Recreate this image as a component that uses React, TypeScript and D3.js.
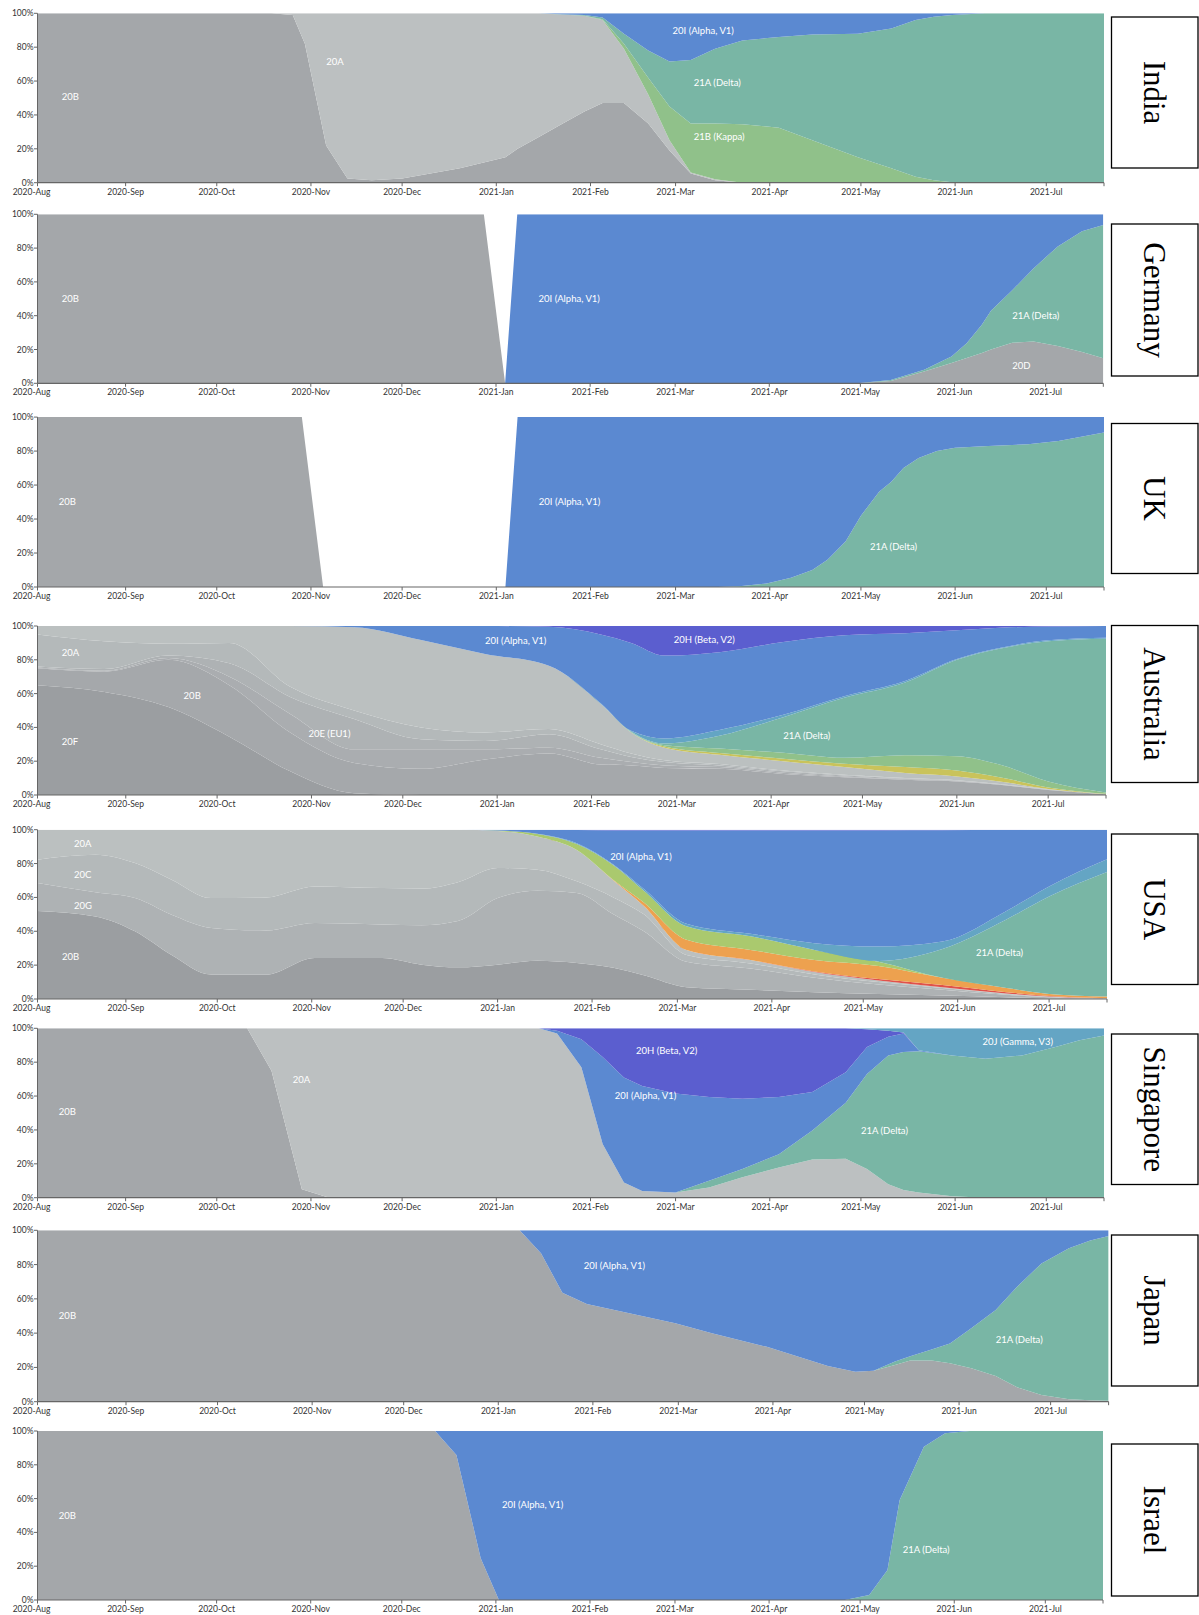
import React from "react";
import * as d3 from "d3";

// ---------------- INDIA ----------------
const indiaDates = ["2020-08-03","2020-10-19","2020-10-26","2020-10-30","2020-11-06","2020-11-13","2020-11-21","2020-12-01","2020-12-20","2021-01-04","2021-01-08","2021-01-15","2021-01-22","2021-01-30","2021-02-05","2021-02-12","2021-02-20","2021-02-27","2021-03-06","2021-03-14","2021-03-23","2021-04-04","2021-04-15","2021-04-30","2021-05-11","2021-05-19","2021-05-25","2021-05-31","2021-06-11","2021-07-20"];
const india20B = [100,100,99,82,22,2.5,1.5,2.5,8.5,15,20,27,34,42,47,47,35,19,5.5,1.5,0,0,0,0,0,0,0,0,0,0];
const india20A = [0,0,1,18,78,97.5,98.5,97.5,91.5,85,80,73,65.3,56.5,49,32,17,6,0.5,0.5,0,0,0,0,0,0,0,0,0,0];
const india21B = [0,0,0,0,0,0,0,0,0,0,0,0,0,0.1,0.5,3,10,20,29,33,34.5,32.5,25,15,8.5,3.5,1.5,0.3,0,0];
const india21A = [0,0,0,0,0,0,0,0,0,0,0,0,0.2,0.4,1,6,16,26.5,37.4,44,49.5,53.5,62.5,73,82.5,92.5,96.5,98.7,100,100];
const india20I = [0,0,0,0,0,0,0,0,0,0,0,0,0.5,1,2.5,12,22,28.5,27.6,21,16,14,12.5,12,9,4,2,1,0,0];

// ---------------- GERMANY ----------------
const germanyDates = ["2020-08-03","2020-12-28","2021-01-04","2021-01-08","2021-04-30","2021-05-11","2021-05-22","2021-05-31","2021-06-05","2021-06-10","2021-06-13","2021-06-20","2021-06-27","2021-07-05","2021-07-13","2021-07-20"];
const germany20B = [100,100,0,0,0,0,0,0,0,0,0,0,0,0,0,0];
const germany20D = [0,0,0,0,0,1.4,7,12,15,18,20,24,24.7,22,18.5,14.8];
const germany21A = [0,0,0,0,0,0.6,1,3.8,8.7,16.7,23,31,43.3,59,71.5,78.9];
const germany20I = [0,0,0,100,100,98,92,84.2,76.3,65.3,57,45,32,19,10,6.3];

// ---------------- UK ----------------
const ukDates = ["2020-08-03","2020-10-29","2020-11-05","2021-01-04","2021-01-08","2021-03-15","2021-03-22","2021-03-31","2021-04-08","2021-04-15","2021-04-20","2021-04-26","2021-05-01","2021-05-07","2021-05-11","2021-05-15","2021-05-20","2021-05-26","2021-06-01","2021-06-12","2021-06-25","2021-07-05","2021-07-20"];
const uk20B = [100,100,0,0,0,0,0,0,0,0,0,0,0,0,0,0,0,0,0,0,0,0,0];
const uk21A = [0,0,0,0,0,0,0.5,2,5.5,10,16,27,42,56,62,70,76,80,82,83,84,86,91];
const uk20I = [0,0,0,0,100,100,99.5,98,94.5,90,84,73,58,44,38,30,24,20,18,17,16,14,9];

// ---------------- AUSTRALIA ----------------
const ausDates = ["2020-08-03","2020-08-25","2020-09-15","2020-10-05","2020-10-25","2020-11-15","2020-12-07","2020-12-28","2021-01-18","2021-02-04","2021-02-14","2021-02-25","2021-03-15","2021-04-05","2021-04-25","2021-05-15","2021-06-01","2021-06-15","2021-07-01","2021-07-20"];
const aus20F = [65,61,52,34.5,14,1,0,0,0,0,0,0,0,0,0,0,0,0,0,0];
const aus20B = [10,12,28,30.5,23,18,15.5,21,24.5,18,17.5,16,15.5,12.5,10.5,9,8,6,3,0.4];
const aus20D = [0.5,0.5,1,5,11,8,11.5,6,3.5,4,2,1.5,1,0.7,0.5,0.4,0.3,0.2,0.1,0.02];
const aus20E = [0.5,1,1.5,8,10,18,6,5,8,5,3,2,1,0.8,0.5,0.4,0.3,0.2,0.1,0.02];
const aus20A = [19,16.5,7,12,6,5,7,5,3,3,2,1,0.8,0.5,0.5,0.2,0.2,0.1,0.1,0.02];
const aus20C = [5,9,10.5,10,36,49.3,51.7,46.5,37.5,24,12.5,7.5,5.5,5.5,4.5,3,2.2,1.5,0.2,0.04];
const aus21D = [0,0,0,0,0,0,0,0,0,0,0,0.7,1,1.5,2,3.5,3.5,2.5,1,0.2];
const aus21B = [0,0,0,0,0,0,0,0,0,0,0.3,0.8,2.7,3.5,3.5,7,8.5,7.5,3.5,0.8];
const aus21A = [0,0,0,0,0,0,0,0,0,0,0.3,1,7.5,21,35.5,43,57,68.5,83,91];
const aus20J = [0,0,0,0,0,0,0,0,0,0.3,0.4,3,3.5,1.5,1,1,0.5,0.5,0.5,0.5];
const aus20I = [0,0,0,0,0,0.7,8.3,16.5,23,40.7,52,49,46,43,36,28.2,17,12,8.2,7];
const aus20H = [0,0,0,0,0,0,0,0,0.5,5,10,17.5,15.5,9.5,5.5,4.3,2.5,1,0.3,0];

// ---------------- USA ----------------
const usaDates = ["2020-08-03","2020-08-22","2020-09-04","2020-09-16","2020-09-29","2020-10-17","2020-11-02","2020-11-24","2020-12-07","2020-12-19","2021-01-01","2021-01-14","2021-01-27","2021-02-08","2021-02-18","2021-03-04","2021-03-25","2021-04-15","2021-05-06","2021-05-27","2021-06-17","2021-07-01","2021-07-20"];
const usa20B = [52,48.8,40,26,14.4,14.4,24.2,24.2,20.3,18.7,20.3,22.6,21.3,18.5,14,7,5.5,4,3,2,1,0.3,0.1];
const usa20G = [16.5,14.2,19.6,23.8,27.6,26.1,20.7,19.8,23.2,27.3,39.3,41.4,41.3,31.5,26,15,12.5,8.5,5.5,3.5,1.5,0.7,0.1];
const usa20C = [13.8,22.2,20.7,20.7,17.6,19.5,21.6,21.5,21.7,23,17.8,12.4,6.9,10,10,4,3,2,1.5,1,0.5,0.3,0.1];
const usa20A = [17.7,14.8,19.7,29.5,40.4,40,33.5,34.5,34.8,31,21.9,19.6,18.5,10,5,3,2,1.5,1,0.5,0.3,0.2,0.1];
const usa21G = [0,0,0,0,0,0,0,0,0,0,0,0,0,0,0,0,0.1,0.3,0.8,1.2,0.7,0.3,0.1];
const usa21C = [0,0,0,0,0,0,0,0,0,0,0,0,0,0.3,2,6,5.9,6.7,7.7,4.3,2.5,1.2,1];
const usa21F = [0,0,0,0,0,0,0,0,0,0,0.2,1.5,3.5,8.7,7,8,8,6,2.5,0,0,0,0];
const usa21A = [0,0,0,0,0,0,0,0,0,0,0,0,0,0,0,0,0,0,0.5,17,40.5,57.5,73.5];
const usa20J = [0,0,0,0,0,0,0,0,0,0,0,0.1,0.5,0.5,1,1.5,1.5,4,8.5,4.5,5,6,7.5];
const usa20I = [0,0,0,0,0,0,0,0,0,0,0.5,2.4,7.8,20.1,34.6,55,61,66.5,68.6,65.7,47.8,33.5,17.5];
const usa20H = [0,0,0,0,0,0,0,0,0,0,0,0,0.2,0.4,0.4,0.5,0.5,0.5,0.4,0.3,0.2,0,0];

// ---------------- SINGAPORE ----------------
const sgDates = ["2020-08-03","2020-10-11","2020-10-19","2020-10-29","2020-11-07","2021-01-15","2021-01-21","2021-01-29","2021-02-05","2021-02-12","2021-02-18","2021-03-01","2021-03-12","2021-03-23","2021-04-04","2021-04-15","2021-04-26","2021-05-03","2021-05-10","2021-05-15","2021-05-20","2021-05-31","2021-06-11","2021-06-23","2021-07-04","2021-07-12","2021-07-20"];
const sg20B = [100,100,75,5,0,0,0,0,0,0,0,0,0,0,0,0,0,0,0,0,0,0,0,0,0,0,0];
const sg20A = [0,0,25,95,100,100,97,77,31.7,9,4,3,6,12,17.8,22.5,23,17,8,4.5,3,0.8,0,0,0,0,0];
const sg21A = [0,0,0,0,0,0,0,0,0,0,0,0,4,5,7.9,17.1,33,56,76,81.5,83.5,83.2,82,84,89,93,95.7];
const sg20I = [0,0,0,0,0,0,1.5,16.5,51.3,62,62,58.5,49.5,41.4,33.7,22.8,18,16,11,11,0.5,0,0,0,0,0,0];
const sg20H = [0,0,0,0,0,0,1.5,6.5,17,29,34,38.5,40.5,41.6,40.6,37.6,26,10.5,3.5,0.5,0,0,0,0,0,0,0];
const sg20J = [0,0,0,0,0,0,0,0,0,0,0,0,0,0,0,0,0,0.5,1.5,2.5,13,16,18,16,11,7,4.3];

// ---------------- JAPAN ----------------
const jpDates = ["2020-08-03","2021-01-08","2021-01-15","2021-01-22","2021-01-30","2021-02-28","2021-03-12","2021-03-30","2021-04-19","2021-04-28","2021-05-04","2021-05-11","2021-05-16","2021-05-23","2021-05-29","2021-06-05","2021-06-13","2021-06-20","2021-06-28","2021-07-07","2021-07-14","2021-07-20"];
const jp20B = [100,100,86.6,63.6,57,45.7,39.9,32,20.8,17.5,18,21.4,24,24,22.4,19.5,15,8.5,3.9,1.5,0.9,0.6];
const jp21A = [0,0,0,0,0,0,0,0,0,0,0,2.1,2.5,6.5,11.6,23.3,38.5,58.5,76.8,88,93.1,96.1];
const jp20I = [0,0,13.4,36.4,43,54.3,60.1,68,79.2,82.5,82,76.5,73.5,69.5,66,57.2,46.5,33,19.3,10.5,6,3.3];

// ---------------- ISRAEL ----------------
const ilDates = ["2020-08-03","2020-12-12","2020-12-19","2020-12-27","2021-01-02","2021-04-26","2021-05-04","2021-05-10","2021-05-14","2021-05-22","2021-05-29","2021-06-06","2021-07-20"];
const il20B = [100,100,85.8,24.7,0,0,0,0,0,0,0,0,0];
const il21A = [0,0,0,0,0,0,3,17.8,59,90.7,98.6,100,100];
const il20I = [0,0,14.2,75.3,100,100,97,82.2,41,9.3,1.4,0,0];

// ---------------- axis ticks ----------------
const X_START = "2020-08-03";
const X_END = "2021-07-20";
const MONTH_TICKS = ["2020-09-01","2020-10-01","2020-11-01","2020-12-01","2021-01-01","2021-02-01","2021-03-01","2021-04-01","2021-05-01","2021-06-01","2021-07-01"];
const Y_TICKS = [0, 20, 40, 60, 80, 100];

// ---------------- colours ----------------
const COL = {
  gray: "#a4a7aa",
  light: "#bcc0c1",
  alpha: "#5b89d1",
  delta: "#79b6a5",
  kappa: "#90c18a",
  beta: "#5b5ecf",
  gamma: "#64a5c4",
  orange: "#eda14f",
  iota: "#aac96e",
  red: "#e0524a",
  eta: "#c9c35b",
  g1: "#9b9ea1",
  g2: "#a5a8ab",
  g3: "#aaadb0",
  g4: "#aeb2b4",
  g5: "#b4b9ba",
  g6: "#bbc0c0",
};

const parse = d3.timeParse("%Y-%m-%d");
const LEFT = 37.5;
const FONT = "Lato, 'Open Sans', 'DejaVu Sans', sans-serif";

type Series = { name: string; values: number[]; color: string };
type Label = { text: string; date: string; pct: number };
type Cfg = {
  country: string;
  dates: string[];
  series: Series[];
  labels: Label[];
  top: number;
  bottom: number;
  right: number;
  box: [number, number];
  smooth: boolean;
};

const panels: Cfg[] = [
  {
    country: "India", dates: indiaDates, top: 13.3, bottom: 182.7, right: 1104, box: [17, 168], smooth: false,
    series: [
      { name: "20B", values: india20B, color: COL.gray },
      { name: "20A", values: india20A, color: COL.light },
      { name: "21B (Kappa)", values: india21B, color: COL.kappa },
      { name: "21A (Delta)", values: india21A, color: COL.delta },
      { name: "20I (Alpha, V1)", values: india20I, color: COL.alpha },
    ],
    labels: [
      { text: "20B", date: "2020-08-11", pct: 50.6 },
      { text: "20A", date: "2020-11-06", pct: 71.3 },
      { text: "20I (Alpha, V1)", date: "2021-02-28", pct: 89.6 },
      { text: "21A (Delta)", date: "2021-03-07", pct: 58.9 },
      { text: "21B (Kappa)", date: "2021-03-07", pct: 27 },
    ],
  },
  {
    country: "Germany", dates: germanyDates, top: 214.3, bottom: 383.3, right: 1103.3, box: [224, 376], smooth: false,
    series: [
      { name: "20B", values: germany20B, color: COL.gray },
      { name: "20D", values: germany20D, color: COL.gray },
      { name: "21A (Delta)", values: germany21A, color: COL.delta },
      { name: "20I (Alpha, V1)", values: germany20I, color: COL.alpha },
    ],
    labels: [
      { text: "20B", date: "2020-08-11", pct: 50 },
      { text: "20I (Alpha, V1)", date: "2021-01-15", pct: 50 },
      { text: "21A (Delta)", date: "2021-06-20", pct: 40.4 },
      { text: "20D", date: "2021-06-20", pct: 10.8 },
    ],
  },
  {
    country: "UK", dates: ukDates, top: 417.1, bottom: 587, right: 1104, box: [423.5, 573.5], smooth: false,
    series: [
      { name: "20B", values: uk20B, color: COL.gray },
      { name: "21A (Delta)", values: uk21A, color: COL.delta },
      { name: "20I (Alpha, V1)", values: uk20I, color: COL.alpha },
    ],
    labels: [
      { text: "20B", date: "2020-08-10", pct: 50.3 },
      { text: "20I (Alpha, V1)", date: "2021-01-15", pct: 50.3 },
      { text: "21A (Delta)", date: "2021-05-04", pct: 24.1 },
    ],
  },
  {
    country: "Australia", dates: ausDates, top: 626, bottom: 795, right: 1106, box: [625.5, 782.5], smooth: true,
    series: [
      { name: "20F", values: aus20F, color: COL.g1 },
      { name: "20B", values: aus20B, color: COL.g2 },
      { name: "20D", values: aus20D, color: COL.g3 },
      { name: "20E (EU1)", values: aus20E, color: COL.g4 },
      { name: "20A", values: aus20A, color: COL.g5 },
      { name: "20C", values: aus20C, color: COL.g6 },
      { name: "21D (Eta)", values: aus21D, color: COL.eta },
      { name: "21B (Kappa)", values: aus21B, color: COL.kappa },
      { name: "21A (Delta)", values: aus21A, color: COL.delta },
      { name: "20J (Gamma, V3)", values: aus20J, color: COL.gamma },
      { name: "20I (Alpha, V1)", values: aus20I, color: COL.alpha },
      { name: "20H (Beta, V2)", values: aus20H, color: COL.beta },
    ],
    labels: [
      { text: "20A", date: "2020-08-11", pct: 84.2 },
      { text: "20B", date: "2020-09-20", pct: 58.6 },
      { text: "20F", date: "2020-08-11", pct: 31.5 },
      { text: "20E (EU1)", date: "2020-10-31", pct: 36.5 },
      { text: "20I (Alpha, V1)", date: "2020-12-28", pct: 91.7 },
      { text: "20H (Beta, V2)", date: "2021-02-28", pct: 92.1 },
      { text: "21A (Delta)", date: "2021-04-05", pct: 35.5 },
    ],
  },
  {
    country: "USA", dates: usaDates, top: 829.7, bottom: 999, right: 1107, box: [834, 984.5], smooth: true,
    series: [
      { name: "20B", values: usa20B, color: COL.g1 },
      { name: "20G", values: usa20G, color: COL.g4 },
      { name: "20C", values: usa20C, color: COL.g5 },
      { name: "20A", values: usa20A, color: COL.g6 },
      { name: "21G", values: usa21G, color: COL.red },
      { name: "21C (Epsilon)", values: usa21C, color: COL.orange },
      { name: "21F (Iota)", values: usa21F, color: COL.iota },
      { name: "21A (Delta)", values: usa21A, color: COL.delta },
      { name: "20J (Gamma, V3)", values: usa20J, color: COL.gamma },
      { name: "20I (Alpha, V1)", values: usa20I, color: COL.alpha },
      { name: "20H (Beta, V2)", values: usa20H, color: COL.beta },
    ],
    labels: [
      { text: "20A", date: "2020-08-15", pct: 92.1 },
      { text: "20C", date: "2020-08-15", pct: 73.4 },
      { text: "20G", date: "2020-08-15", pct: 55.3 },
      { text: "20B", date: "2020-08-11", pct: 25.2 },
      { text: "20I (Alpha, V1)", date: "2021-02-07", pct: 84.3 },
      { text: "21A (Delta)", date: "2021-06-07", pct: 27.6 },
    ],
  },
  {
    country: "Singapore", dates: sgDates, top: 1028.3, bottom: 1197.7, right: 1104, box: [1034, 1184.5], smooth: false,
    series: [
      { name: "20B", values: sg20B, color: COL.gray },
      { name: "20A", values: sg20A, color: COL.light },
      { name: "21A (Delta)", values: sg21A, color: COL.delta },
      { name: "20I (Alpha, V1)", values: sg20I, color: COL.alpha },
      { name: "20H (Beta, V2)", values: sg20H, color: COL.beta },
      { name: "20J (Gamma, V3)", values: sg20J, color: COL.gamma },
    ],
    labels: [
      { text: "20B", date: "2020-08-10", pct: 50.6 },
      { text: "20A", date: "2020-10-26", pct: 69.5 },
      { text: "20H (Beta, V2)", date: "2021-02-16", pct: 86.8 },
      { text: "20I (Alpha, V1)", date: "2021-02-09", pct: 60.6 },
      { text: "21A (Delta)", date: "2021-05-01", pct: 39.9 },
      { text: "20J (Gamma, V3)", date: "2021-06-10", pct: 92.1 },
    ],
  },
  {
    country: "Japan", dates: jpDates, top: 1230.3, bottom: 1401.7, right: 1108.6, box: [1235, 1386], smooth: false,
    series: [
      { name: "20B", values: jp20B, color: COL.gray },
      { name: "21A (Delta)", values: jp21A, color: COL.delta },
      { name: "20I (Alpha, V1)", values: jp20I, color: COL.alpha },
    ],
    labels: [
      { text: "20B", date: "2020-08-10", pct: 50.2 },
      { text: "20I (Alpha, V1)", date: "2021-01-29", pct: 79.3 },
      { text: "21A (Delta)", date: "2021-06-13", pct: 36 },
    ],
  },
  {
    country: "Israel", dates: ilDates, top: 1431, bottom: 1600, right: 1103, box: [1444, 1596], smooth: false,
    series: [
      { name: "20B", values: il20B, color: COL.gray },
      { name: "21A (Delta)", values: il21A, color: COL.delta },
      { name: "20I (Alpha, V1)", values: il20I, color: COL.alpha },
    ],
    labels: [
      { text: "20B", date: "2020-08-10", pct: 49.9 },
      { text: "20I (Alpha, V1)", date: "2021-01-03", pct: 56.6 },
      { text: "21A (Delta)", date: "2021-05-15", pct: 29.6 },
    ],
  },
];

const fmt = d3.timeFormat("%Y-%b");

function Panel({ cfg, idx }: { cfg: Cfg; idx: number }) {
  const x = d3.scaleTime().domain([parse(X_START)!, parse(X_END)!]).range([LEFT, cfg.right]);
  const y = d3.scaleLinear().domain([0, 100]).range([cfg.bottom, cfg.top]);
  const keys = cfg.series.map((s) => s.name);
  const rows = cfg.dates.map((d, i) => {
    const r: any = { date: parse(d) };
    cfg.series.forEach((s) => { r[s.name] = s.values[i]; });
    return r;
  });
  const stacked = d3.stack<any>().keys(keys)(rows);
  const area = d3
    .area<any>()
    .x((d: any) => x(d.data.date))
    .y0((d: any) => y(d[0]))
    .y1((d: any) => y(d[1]))
    .curve(cfg.smooth ? d3.curveMonotoneX : d3.curveLinear);
  const clipId = `clip-${idx}`;
  const monthTicks = MONTH_TICKS.map((t) => parse(t)!);
  const start = parse(X_START)!;
  const bx = 1111.5, bw = 86.5;
  const [b0, b1] = cfg.box;
  const cx = bx + bw / 2, cy = (b0 + b1) / 2;
  return (
    <g>
      <defs>
        <clipPath id={clipId}>
          <rect x={LEFT} y={cfg.top} width={cfg.right - LEFT} height={cfg.bottom - cfg.top} />
        </clipPath>
      </defs>
      <g clipPath={`url(#${clipId})`}>
        {stacked.map((layer, i) => (
          <path key={i} d={area(layer as any) || ""} fill={cfg.series[i].color} />
        ))}
      </g>
      {cfg.labels.map((l, i) => (
        <text key={i} x={x(parse(l.date)!)} y={y(l.pct)} fill="#fff" fontSize={9.5} fontFamily={FONT} dominantBaseline="central">
          {l.text}
        </text>
      ))}
      {/* y axis */}
      <line x1={LEFT} x2={LEFT} y1={cfg.top} y2={cfg.bottom} stroke="#666" strokeWidth={1} />
      {Y_TICKS.map((t) => (
        <g key={t}>
          <line x1={LEFT - 3.5} x2={LEFT} y1={y(t)} y2={y(t)} stroke="#666" />
          <text x={LEFT - 4} y={y(t)} fontSize={8.5} fontFamily={FONT} fill="#333" textAnchor="end" dominantBaseline="central">
            {t}%
          </text>
        </g>
      ))}
      {/* x axis */}
      <line x1={LEFT} x2={cfg.right} y1={cfg.bottom} y2={cfg.bottom} stroke="#666" strokeWidth={1.2} />
      <line x1={LEFT} x2={LEFT} y1={cfg.bottom} y2={cfg.bottom + 3.5} stroke="#666" />
      <text x={LEFT - 6} y={cfg.bottom + 12} fontSize={8.5} fontFamily={FONT} fill="#333" textAnchor="middle">
        {fmt(start)}
      </text>
      {monthTicks.map((t, i) => (
        <g key={i}>
          <line x1={x(t)} x2={x(t)} y1={cfg.bottom} y2={cfg.bottom + 3.5} stroke="#666" />
          <text x={x(t)} y={cfg.bottom + 12} fontSize={8.5} fontFamily={FONT} fill="#333" textAnchor="middle">
            {fmt(t)}
          </text>
        </g>
      ))}
      <line x1={cfg.right} x2={cfg.right} y1={cfg.bottom} y2={cfg.bottom + 3.5} stroke="#666" />
      {/* country box */}
      <rect x={bx} y={b0} width={bw} height={b1 - b0} fill="#fff" stroke="#000" strokeWidth={1.3} />
      <text
        x={cx}
        y={cy}
        transform={`rotate(90 ${cx} ${cy})`}
        textAnchor="middle"
        dominantBaseline="central"
        fontFamily="'Liberation Serif', 'Times New Roman', serif"
        fontSize={31}
        fill="#000"
      >
        {cfg.country}
      </text>
    </g>
  );
}

export default function App() {
  return (
    <div style={{ position: "absolute", left: 0, top: 0 }}>
      <svg width={1199} height={1615} viewBox="0 0 1199 1615" style={{ display: "block", background: "#fff" }}>
        {panels.map((p, i) => (
          <Panel key={p.country} cfg={p} idx={i} />
        ))}
      </svg>
    </div>
  );
}
